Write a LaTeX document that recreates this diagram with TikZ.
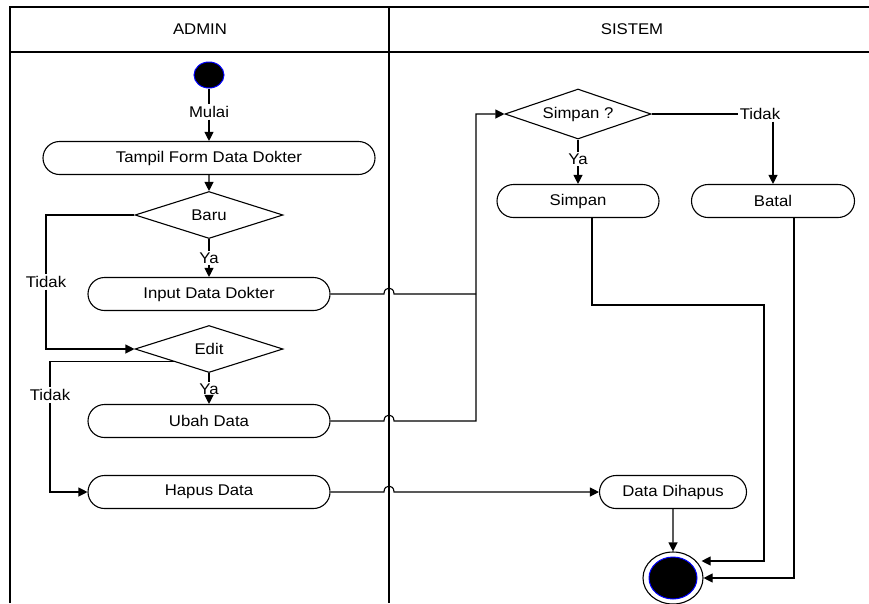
\documentclass[tikz,border=0pt]{standalone}
\usepackage{fontspec}
\setmainfont{Liberation Sans}[FakeStretch=1.08]
\usetikzlibrary{shapes.geometric,shapes.misc,arrows.meta}
\begin{document}
\begin{tikzpicture}[x=1pt,y=-1pt, font=\fontsize{15.5}{18}\selectfont,
 line width=1.1pt,
 act/.style={draw, rounded rectangle, minimum height=33pt, inner sep=0pt},
 dec/.style={draw, diamond, minimum width=148pt, minimum height=47pt, inner sep=0pt, aspect=3},
 lbl/.style={fill=white, inner sep=1.5pt},
 arr/.style={-{Triangle[length=9pt,width=9pt]}},
 startdot/.style={draw=blue, fill=black, ellipse, inner sep=0pt, line width=1pt},
]
\useasboundingbox (0,0) rectangle (869,603);
% swimlane frame
\draw (10,603) -- (10,7) -- (872,7);
\draw (10,52) -- (872,52);
\draw (389,7) -- (389,603);
\node (laneA) at (200,29) {ADMIN};
\node (laneB) at (632,29) {SISTEM};
% nodes
\node[startdot, minimum width=30pt, minimum height=26pt] (start) at (209,75) {};
\node[lbl] (mulai) at (209,112) {Mulai};
\node[act, minimum width=332pt] (tampil) at (209,158) {Tampil Form Data Dokter};
\node[dec] (baru) at (209,215) {Baru};
\node[lbl] (ya1) at (209,258) {Ya};
\node[act, minimum width=242pt] (input) at (209,294) {Input Data Dokter};
\node[lbl] (tidak1) at (46,282) {Tidak};
\node[dec] (edit) at (209,349) {Edit};
\node[lbl] (ya2) at (209,389) {Ya};
\node[act, minimum width=242pt] (ubah) at (209,421) {Ubah Data};
\node[lbl] (tidak2) at (50,395) {Tidak};
\node[act, minimum width=242pt] (hapus) at (209,492) {Hapus Data};
\node[dec, minimum width=146pt, minimum height=50pt] (simpanq) at (578,114) {Simpan ?};
\node[lbl] (tidak3) at (760,114) {Tidak};
\node[lbl] (ya3) at (578,159) {Ya};
\node[act, minimum width=162pt] (simpan) at (578,201) {Simpan};
\node[act, minimum width=163pt] (batal) at (773,201) {Batal};
\node[act, minimum width=147pt] (dihapus) at (673,492) {Data Dihapus};
\node[draw, ellipse, minimum width=60pt, minimum height=52pt, inner sep=0pt] (endc) at (673,578) {};
\node[startdot, minimum width=48pt, minimum height=42pt] (endi) at (673,578) {};
% connectors
\draw (start) -- (mulai);
\draw[arr] (mulai) -- (tampil);
\draw[arr] (tampil) -- (baru);
\draw (baru) -- (ya1);
\draw[arr] (ya1) -- (input);
\draw (baru.west) -| (tidak1);
\draw[arr] (tidak1) |- (edit.west);
\draw (edit) -- (ya2);
\draw[arr] (ya2) -- (ubah);
\draw (edit.200) -| (tidak2);
\draw[arr] (tidak2) |- (hapus.west);
\coordinate (jA) at (476,294);
\coordinate (jB) at (476,421);
\draw (input.east) -- (384,294) .. controls (384,286) and (394,286) .. (394,294) -- (jA);
\draw[arr] (ubah.east) -- (384,421) .. controls (384,413) and (394,413) .. (394,421) -- (jB) |- (simpanq.west);
\draw[arr] (hapus.east) -- (384,492) .. controls (384,484) and (394,484) .. (394,492) -- (dihapus.west);
\draw (simpanq.east) -- (tidak3);
\draw[arr] (tidak3.south -| batal.north) -- (batal.north);
\draw (simpanq) -- (ya3);
\draw[arr] (ya3) -- (simpan);
\draw[arr] (dihapus) -- (endc);
\coordinate (bend1) at (764,305);
\draw[arr] ([xshift=14pt]simpan.south) |- (bend1) |- ([xshift=-2pt,yshift=17pt]endc.east);
\draw[arr] ([xshift=21pt]batal.south) |- (endc.east);
\end{tikzpicture}
\end{document}
